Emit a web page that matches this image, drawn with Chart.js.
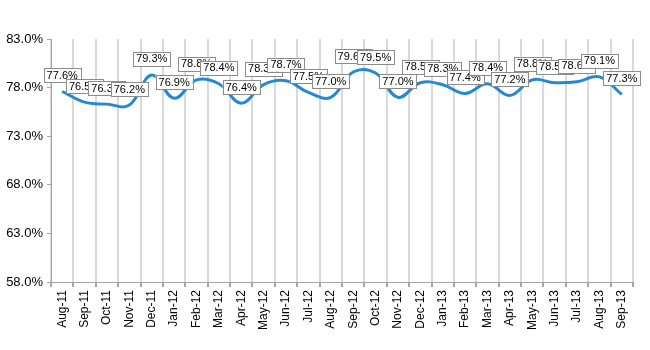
<!DOCTYPE html>
<html>
<head>
<meta charset="utf-8">
<script src="https://cdn.jsdelivr.net/npm/chart.js@4.4.0/dist/chart.umd.min.js"></script>
<style>
    html, body { margin: 0; padding: 0; background: #fff; }
    #wrap { width: 650px; height: 350px; }
</style>
</head>
<body>
<div id="wrap"><canvas id="rate-chart" width="650" height="350"></canvas></div>
<script>
const months = ['Aug-11', 'Sep-11', 'Oct-11', 'Nov-11', 'Dec-11', 'Jan-12', 'Feb-12', 'Mar-12', 'Apr-12',
    'May-12', 'Jun-12', 'Jul-12', 'Aug-12', 'Sep-12', 'Oct-12', 'Nov-12', 'Dec-12', 'Jan-13', 'Feb-13',
    'Mar-13', 'Apr-13', 'May-13', 'Jun-13', 'Jul-13', 'Aug-13', 'Sep-13'];
const rates = [77.6, 76.5, 76.3, 76.2, 79.3, 76.9, 78.8, 78.4, 76.4, 78.3, 78.7, 77.5, 77.0, 79.6, 79.5,
    77.0, 78.5, 78.3, 77.4, 78.4, 77.2, 78.8, 78.5, 78.6, 79.1, 77.3];
const yMin = 58;
const yMax = 83;
const yStep = 5;

const narrowFont = "'Liberation Sans Narrow', 'Liberation Sans', Arial, sans-serif";

// boxed value labels above each point (no datalabels plugin available offline)
const BoxLabels = {
    id: 'boxLabels',
    afterDatasetsDraw(chart) {
        const c = chart.ctx;
        const meta = chart.getDatasetMeta(0);
        c.save();
        c.font = '11px ' + narrowFont;
        c.textAlign = 'center';
        c.textBaseline = 'middle';
        meta.data.forEach(function (pt, i) {
            const text = rates[i].toFixed(1) + '%';
            const w = c.measureText(text).width + 6;
            const h = 14;
            const x = pt.x - w / 2;
            const y = pt.y - 9 - h;
            c.fillStyle = '#fff';
            c.fillRect(x, y, w, h);
            c.strokeStyle = '#8c8c8c';
            c.lineWidth = 1;
            c.strokeRect(Math.round(x) + 0.5, Math.round(y) + 0.5, Math.round(w), h);
            c.fillStyle = '#000';
            c.fillText(text, pt.x, y + h / 2 + 0.5);
        });
        c.restore();
    }
};

const ctx = document.getElementById('rate-chart');
new Chart(ctx, {
    type: 'line',
    data: {
        labels: months,
        datasets: [{
            data: rates,
            borderColor: '#2389d2',
            borderWidth: 3,
            tension: 0.4,
            pointRadius: 0,
            fill: false
        }]
    },
    options: {
        responsive: false,
        animation: false,
        layout: {
            padding: { top: 39, right: 17, bottom: 0, left: 0 }
        },
        plugins: {
            legend: { display: false },
            tooltip: { enabled: false }
        },
        scales: {
            x: {
                offset: true,
                grid: {
                    offset: true,
                    color: '#d9d9d9',
                    lineWidth: 2,
                    drawTicks: true,
                    tickLength: 5,
                    tickColor: '#a6a6a6'
                },
                border: { color: '#a6a6a6', width: 1 },
                ticks: {
                    minRotation: 90,
                    maxRotation: 90,
                    autoSkip: false,
                    padding: 3,
                    color: '#000',
                    font: { family: "'Liberation Sans', Arial, sans-serif", size: 12 }
                },
                afterFit(scale) {
                    scale.height = 68;
                }
            },
            y: {
                min: yMin,
                max: yMax,
                grid: {
                    drawOnChartArea: false,
                    drawTicks: true,
                    tickLength: 4,
                    tickColor: '#a6a6a6'
                },
                border: { color: '#a6a6a6', width: 1 },
                ticks: {
                    stepSize: yStep,
                    padding: 4,
                    color: '#000',
                    font: { family: narrowFont, size: 13 },
                    callback: function (value) {
                        return value.toFixed(1) + '%';
                    }
                },
                afterFit(scale) {
                    scale.width = 51;
                }
            }
        }
    },
    plugins: [BoxLabels]
});
</script>
</body>
</html>
